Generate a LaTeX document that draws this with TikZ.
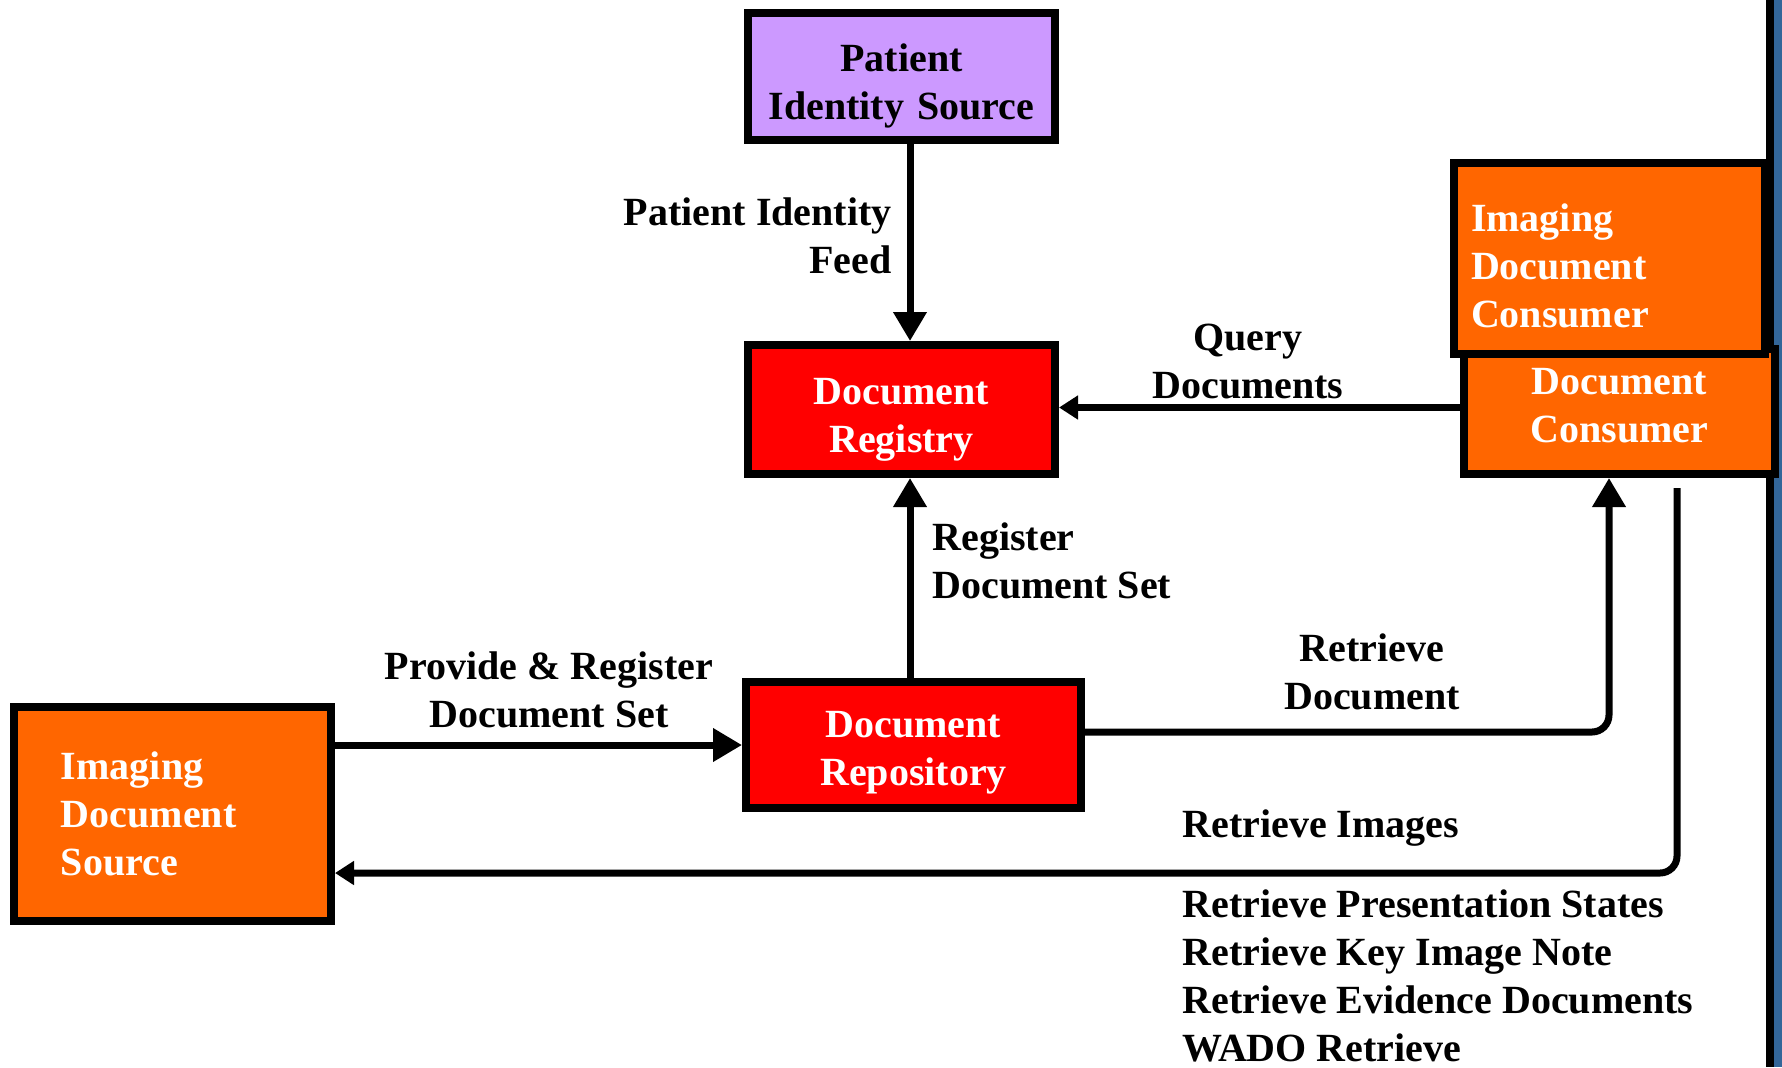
\documentclass[tikz,border=0pt]{standalone}
\usepackage{fontspec}
\setmainfont{Liberation Serif}
\usetikzlibrary{arrows.meta}
\definecolor{lavender}{HTML}{CC99FF}
\definecolor{ihered}{HTML}{FF0000}
\definecolor{iheorange}{HTML}{FF6600}
\definecolor{sidebar}{HTML}{336699}
\tikzset{
  actor/.style={draw, line width=4pt, inner sep=0pt, align=center, text=white,
    font=\bfseries\fontsize{20}{24}\selectfont},
  textdown/.style={execute at begin node={\rule{0pt}{#1}}},
  textup/.style={execute at end node={\rule[-#1]{0pt}{#1}}},
  lbl/.style={inner sep=0pt, font=\bfseries\fontsize{20}{24}\selectfont},
  flow/.style={line width=3.5pt, -{Triangle[length=14.5pt,width=16pt]}},
  flowsmall/.style={line width=3.5pt, -{Triangle[length=9.5pt,width=11.5pt]}}
}
\begin{document}
\begin{tikzpicture}[x=0.5pt,y=-0.5pt]
\useasboundingbox (0,0) rectangle (1782,1067);
\fill (1766,0) rectangle (1774,1067);
\fill[sidebar] (1774,0) rectangle (1782,1067);
\node[actor, fill=lavender, text=black, textdown=23pt, text width=153.5pt, minimum width=153.5pt, minimum height=63.5pt] (pis) at (901.5,76.5) {Patient\\Identity Source};
\node[actor, fill=ihered, textdown=23pt, text width=153.5pt, minimum width=153.5pt, minimum height=64.5pt] (reg) at (901.5,409.5) {Document\\Registry};
\node[actor, fill=ihered, textdown=21pt, text width=167.5pt, minimum width=167.5pt, minimum height=63pt] (rep) at (913.5,745) {Document\\Repository};
\node[actor, fill=iheorange, align=left, inner xsep=23.5pt, text width=111.5pt, minimum width=158.5pt, minimum height=107pt] (ids) at (172.5,814) {Imaging\\Document\\Source};
\node[actor, fill=iheorange, textup=6pt, minimum width=155.5pt, minimum height=62.5pt] (dc) at (1619.5,411.5) {Document\\Consumer};
\node[actor, fill=iheorange, align=left, textdown=21pt, inner xsep=8.5pt, text width=138.5pt, minimum width=155.5pt, minimum height=95.5pt] (idc) at (1609.5,258.5) {Imaging\\Document\\Consumer};
% transactions
\coordinate (axis) at (910,0);
\coordinate (rdoc) at (1609,0);
\coordinate (rimg) at (1677,488);
\draw[flow] (pis.south -| axis) -- (reg.north -| axis);
\draw[flow] (rep.north -| axis) -- (reg.south -| axis);
\draw[flowsmall] ([yshift=2pt]dc.west) -- ([yshift=2pt]dc.west -| reg.east);
\draw[flow] (ids.east |- rep.west) -- (rep.west);
\draw[flow, rounded corners=8.5pt] ([yshift=6.5pt]rep.east) -| (dc.south -| rdoc);
\draw[flowsmall, rounded corners=8.5pt] (rimg) |- ([yshift=-29.5pt]ids.east);
\node[lbl, anchor=east, align=right] (pifl) at (892,236) {Patient Identity\\Feed};
\node[lbl, anchor=west, align=left] (regl) at (932,561) {Register\\Document Set};
\node[lbl, align=center] (qryl) at (1248,361) {Query\\Documents};
\node[lbl, align=center] (prvl) at (549,690) {Provide \& Register\\Document Set};
\node[lbl, align=center] (rdocl) at (1372,672) {Retrieve\\Document};
\node[lbl, anchor=west] (rimgl) at (1182,828) {Retrieve Images};
\node[lbl, anchor=west, align=left] (listl) at (1182,976) {Retrieve Presentation States\\Retrieve Key Image Note\\Retrieve Evidence Documents\\WADO Retrieve};
\end{tikzpicture}
\end{document}
